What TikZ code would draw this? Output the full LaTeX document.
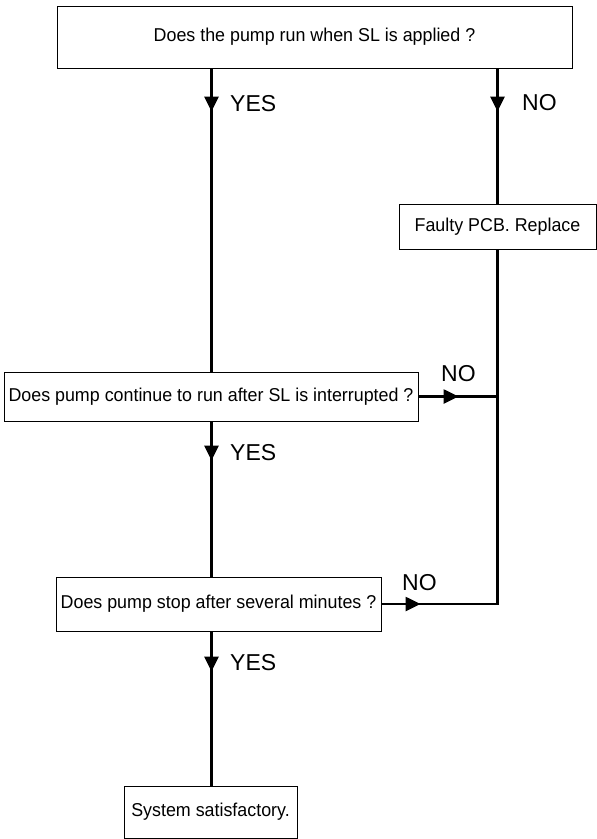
\documentclass[tikz,border=0pt]{standalone}
\usepackage{fontspec}
\setmainfont{Liberation Sans}
\newfontfamily\boxfont[FakeStretch=0.96]{Liberation Sans}
\usetikzlibrary{arrows.meta,decorations.markings}
\tikzset{
  box/.style={draw, line width=1pt, inner sep=0pt, font=\boxfont\fontsize{18.6}{20}\selectfont},
  wire/.style={line width=2.6pt, line join=miter},
  lbl/.style={inner sep=0pt, anchor=west, font=\fontsize{23}{25}\selectfont},
  arrowat/.style={postaction={decorate}, decoration={markings,
      mark=at position #1 with {\arrow{Triangle[width=14pt,length=15pt]}}}}
}
\begin{document}
\begin{tikzpicture}[x=1pt, y=-1pt]
  \useasboundingbox (0,0) rectangle (597,839);

  \coordinate (lx) at (211.5,0);
  \node[box, minimum width=515pt, minimum height=62pt] (pump) at (314.5,37) {Does the pump run when SL is applied ?};
  \node[box, minimum width=197pt, minimum height=45pt] (faulty) at (497.5,226.5) {Faulty PCB. Replace};
  \node[box, minimum width=414pt, minimum height=49pt] (cont) at (211,396.5) {Does pump continue to run after SL is interrupted ?};
  \node[box, minimum width=325pt, minimum height=54pt] (stop) at (218.5,604) {Does pump stop after several minutes ?};
  \node[box, minimum width=173pt, minimum height=52pt] (ok) at (210.5,812) {System satisfactory.};

  \draw[wire, arrowat=43pt] (pump.south -| lx) -- (cont.north -| lx);
  \draw[wire, arrowat=43pt] (pump.south -| faulty.north) -- (faulty.north);
  \draw[wire] (faulty.south) |- (stop.east);
  \draw[wire, arrowat=40pt] (cont.east) -- (cont.east -| faulty.south);
  \draw[wire, arrowat=39pt] (stop.east) -- (stop.east -| faulty.south);
  \draw[wire, arrowat=39pt] (cont.south -| lx) -- (stop.north -| lx);
  \draw[wire, arrowat=40pt] (stop.south -| lx) -- (ok.north -| lx);

  \node[lbl] (yes1) at (230,104) {YES};
  \node[lbl] (no1) at (522,103) {NO};
  \node[lbl] (no2) at (441,374) {NO};
  \node[lbl] (yes2) at (230,453) {YES};
  \node[lbl] (no3) at (402,583) {NO};
  \node[lbl] (yes3) at (230,663) {YES};
\end{tikzpicture}
\end{document}
